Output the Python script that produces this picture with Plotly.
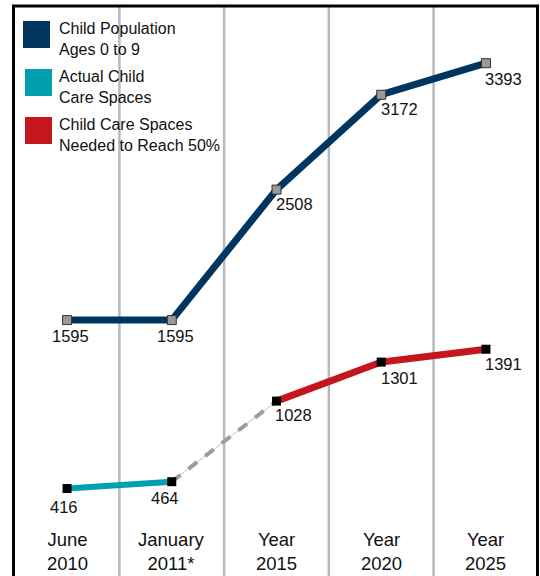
import plotly.graph_objects as go

# ---- data ----
categories = ["June\n2010", "January\n2011*", "Year\n2015", "Year\n2020", "Year\n2025"]
child_population = [1595, 1595, 2508, 3172, 3393]
actual_spaces = [416, 464, None, None, None]
needed_spaces = [None, None, 1028, 1301, 1391]
legend_labels = ["Child Population\nAges 0 to 9", "Actual Child\nCare Spaces",
                 "Child Care Spaces\nNeeded to Reach 50%"]

NAVY = "#00355f"
TEAL = "#00a0ae"
RED = "#c4161c"
GRID = "#b9b9bd"

W, H = 540, 576
x = list(range(len(categories)))


def px(v):
    return v / W


def py(v):
    return 1 - v / H


fig = go.Figure()

# thin connector + dashed gap between actual and needed
gap_x = [x[1], x[2]]
gap_y = [actual_spaces[1], needed_spaces[2]]
fig.add_trace(go.Scatter(x=gap_x, y=gap_y, mode="lines",
                         line=dict(color="#c4c4c4", width=1), hoverinfo="skip"))
fig.add_trace(go.Scatter(x=gap_x, y=gap_y, mode="lines",
                         line=dict(color="#9c9c9c", width=4, dash="11px,10px"), hoverinfo="skip"))

fig.add_trace(go.Scatter(x=x, y=child_population, mode="lines+markers",
                         line=dict(color=NAVY, width=7),
                         marker=dict(symbol="square", size=9, color="#999999",
                                     line=dict(color="#333333", width=1)),
                         hoverinfo="skip"))
fig.add_trace(go.Scatter(x=x, y=actual_spaces, mode="lines+markers",
                         line=dict(color=TEAL, width=6),
                         marker=dict(symbol="square", size=9, color="#000000"),
                         hoverinfo="skip"))
fig.add_trace(go.Scatter(x=x, y=needed_spaces, mode="lines+markers",
                         line=dict(color=RED, width=7),
                         marker=dict(symbol="square", size=9, color="#000000"),
                         hoverinfo="skip"))

LBL = 16.5
annotations = []
pop_shift = [(3, -16, "center"), (4, -16, "center"), (-2, -14, "left"), (-2, -14, "left"), (-3, -16, "left")]
for i, v in enumerate(child_population):
    dx, dy, anc = pop_shift[i]
    annotations.append(dict(x=x[i], y=v, text=str(v), showarrow=False, xanchor=anc,
                            yanchor="middle", xshift=dx, yshift=dy,
                            font=dict(size=LBL, color="#111111")))
act_shift = [(-3, -18), (-7, -16)]
for i, v in enumerate(actual_spaces):
    if v is None:
        continue
    dx, dy = act_shift[i]
    annotations.append(dict(x=x[i], y=v, text=str(v), showarrow=False, xanchor="center",
                            yanchor="middle", xshift=dx, yshift=dy,
                            font=dict(size=LBL, color="#111111")))
need_shift = {2: (-3, -14), 3: (-2, -16), 4: (-3, -15)}
for i, v in enumerate(needed_spaces):
    if v is None:
        continue
    dx, dy = need_shift[i]
    annotations.append(dict(x=x[i], y=v, text=str(v), showarrow=False, xanchor="left",
                            yanchor="middle", xshift=dx, yshift=dy,
                            font=dict(size=LBL, color="#111111")))

# category labels
for i, c in enumerate(categories):
    annotations.append(dict(x=x[i], y=py(551), yref="paper", text=c.replace("\n", "<br>"),
                            showarrow=False, xanchor="center", yanchor="middle",
                            font=dict(size=18.5, color="#111111")))

# legend (custom)
shapes = []
legend_colors = [NAVY, TEAL, RED]
sq = [(23, 21), (25, 69), (25, 117)]
text_centers = [38.5, 86.5, 134.5]
for (lx, ly), col, lab, tc in zip(sq, legend_colors, legend_labels, text_centers):
    shapes.append(dict(type="rect", xref="paper", yref="paper",
                       x0=px(lx), x1=px(lx + 27), y0=py(ly + 27), y1=py(ly),
                       fillcolor=col, line=dict(width=0)))
    annotations.append(dict(x=px(56.5), y=py(tc), xref="paper", yref="paper",
                            text=lab.replace("\n", "<br>"), showarrow=False,
                            xanchor="left", yanchor="middle", align="left",
                            font=dict(size=16, color="#111111")))

# vertical separators
for g in [0.5, 1.5, 2.5, 3.5]:
    shapes.append(dict(type="line", xref="x", yref="paper", x0=g, x1=g,
                       y0=-0.05, y1=py(6), line=dict(color=GRID, width=2.5), layer="below"))

# frame
shapes.append(dict(type="rect", xref="paper", yref="paper",
                   x0=px(13.5), x1=px(537.5), y0=-0.05, y1=py(6),
                   line=dict(color="#000000", width=3), fillcolor="rgba(0,0,0,0)"))

fig.update_layout(
    width=W, height=H, margin=dict(l=0, r=0, t=0, b=0),
    paper_bgcolor="white", plot_bgcolor="white",
    showlegend=False,
    font=dict(family="Liberation Sans, Arial, sans-serif"),
    xaxis=dict(range=[-0.64, 4.516], showgrid=False, zeroline=False,
               showticklabels=False, fixedrange=True),
    yaxis=dict(range=[-196, 3835], showgrid=False, zeroline=False,
               showticklabels=False, fixedrange=True),
    shapes=shapes, annotations=annotations,
)

fig.write_html("out.html", config={"displayModeBar": False},
               post_script="document.body.style.margin='0px';document.body.style.overflow='hidden';")
